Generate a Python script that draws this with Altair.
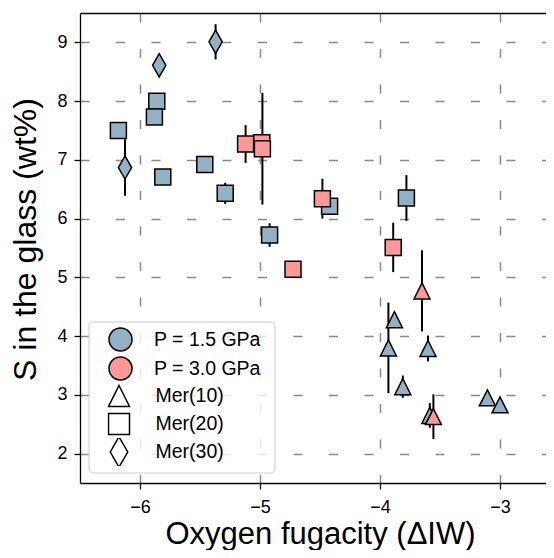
import altair as alt
import pandas as pd

# ---- data ----
x_iw = [-5.37, -5.84, -6.125,
        -5.86, -5.88, -6.18, -5.81, -5.46, -5.29, -4.92, -4.42, -3.78,
        -3.88, -3.93, -3.60, -3.81, -3.585, -3.105, -3.00,
        -5.12, -4.985, -4.98, -4.725, -4.48, -3.89,
        -3.65, -3.555]
s_wt = [9.01, 8.61, 6.87,
        8.00, 7.73, 7.50, 6.71, 6.92, 6.43, 5.72, 6.21, 6.35,
        4.28, 3.80, 3.79, 3.14, 2.65, 2.95, 2.83,
        7.27, 7.29, 7.19, 5.14, 6.34, 5.51,
        4.77, 2.63]
s_err = [0.30, 0.0, 0.48,
         0.0, 0.0, 0.0, 0.0, 0.0, 0.18, 0.20, 0.10, 0.39,
         0.12, 0.77, 0.22, 0.19, 0.21, 0.0, 0.0,
         0.32, 0.0, 0.95, 0.0, 0.34, 0.42,
         0.69, 0.38]
pressure = (["P = 1.5 GPa"] * 19) + (["P = 3.0 GPa"] * 8)
series = (["Mer(30)"] * 3 + ["Mer(20)"] * 9 + ["Mer(10)"] * 7
          + ["Mer(20)"] * 6 + ["Mer(10)"] * 2)

pressure_levels = ["P = 1.5 GPa", "P = 3.0 GPa"]
pressure_colors = ["#93b1c2", "#ff9896"]
series_levels = ["Mer(10)", "Mer(20)", "Mer(30)"]
series_shapes = ["M0,-1L1,1L-1,1Z",
                 "M-1,-1L1,-1L1,1L-1,1Z",
                 "M0,-1.45L0.83,0L0,1.45L-0.83,0Z"]

x_ticks = [-6, -5, -4, -3]
y_ticks = [2, 3, 4, 5, 6, 7, 8, 9]
x_domain = [-6.5, -2.6167]
y_domain = [1.5, 9.5]

df = pd.DataFrame({"x": x_iw, "y": s_wt, "err": s_err,
                   "pressure": pressure, "series": series})
df["order"] = range(len(df))
df["lo"] = df["y"] - df["err"]
df["hi"] = df["y"] + df["err"]

FONT = "Liberation Sans"
GRID = dict(grid=True, gridColor="#8a8a8a", gridDash=[9, 26.5], gridWidth=1.5)
xscale = alt.Scale(domain=x_domain, nice=False, zero=False)
yscale = alt.Scale(domain=y_domain, nice=False, zero=False)

xaxis = alt.Axis(orient="bottom", values=x_ticks, title="Oxygen fugacity (ΔIW)",
                 titleX=240, titleY=60.5, titleBaseline="alphabetic",
                 titleAlign="center", titleFontSize=31,
                 labelPadding=9, **GRID)
yaxis = alt.Axis(orient="left", values=y_ticks, format="d",
                 title="S in the glass (wt%)",
                 titleX=-45, titleY=226, titleBaseline="alphabetic",
                 titleAngle=270, titleAlign="center", titleFontSize=32,
                 labelPadding=7, **GRID)

errbars = alt.Chart(df).transform_filter("datum.err > 0").mark_rule(
    color="black", strokeWidth=2
).encode(x=alt.X("x:Q", scale=xscale, axis=None),
         y=alt.Y("lo:Q", scale=yscale, axis=yaxis), y2="hi:Q")

points = alt.Chart(df).mark_point(
    filled=True, stroke="black", strokeWidth=1.5, size=256, opacity=1
).encode(
    x=alt.X("x:Q", scale=xscale, axis=xaxis),
    y=alt.Y("y:Q", scale=yscale, axis=yaxis),
    fill=alt.Fill("pressure:N",
                  scale=alt.Scale(domain=pressure_levels, range=pressure_colors),
                  legend=alt.Legend(title=None, orient="none", legendX=28, legendY=312,
                                    symbolType="circle", symbolSize=529,
                                    symbolStrokeColor="black", symbolStrokeWidth=1.5,
                                    symbolOpacity=1, clipHeight=29,
                                    labelFont=FONT, labelFontSize=19.5, labelColor="black",
                                    labelOffset=21, rowPadding=0, padding=0)),
    shape=alt.Shape("series:N",
                    scale=alt.Scale(domain=series_levels, range=series_shapes),
                    legend=alt.Legend(title=None, orient="none", legendX=27.5, legendY=369,
                                      symbolSize=441, symbolFillColor="white",
                                      symbolStrokeColor="black", symbolStrokeWidth=1.5,
                                      symbolOpacity=1, clipHeight=28,
                                      labelFont=FONT, labelFontSize=19.5, labelColor="black",
                                      labelOffset=25, rowPadding=0, padding=0)),
    order=alt.Order("order:Q"),
)

# invisible layer carrying the top frame line
top_frame = alt.Chart(df).mark_rule(opacity=0).encode(
    x=alt.X("x:Q", scale=xscale,
            axis=alt.Axis(orient="top", labels=False, ticks=False, grid=False,
                          title="", domain=True)),
)

frame = alt.Chart(alt.Data(values=[{"k": 1}])).mark_rect(
    fill="white", fillOpacity=0.8, stroke="#cccccc", strokeWidth=1, cornerRadius=4
).encode(x=alt.value(9), x2=alt.value(195), y=alt.value(309), y2=alt.value(460))

chart = alt.layer(errbars, points, top_frame, frame).resolve_axis(
    x="independent"
).properties(
    width=466, height=470,
    padding={"left": 72, "top": 5, "right": 0, "bottom": 67},
    autosize=alt.AutoSizeParams(type="none"),
).configure_view(stroke=None).configure_axis(
    labelFont=FONT, labelFontSize=18, labelColor="black",
    titleFont=FONT, titleFontWeight="normal", titleColor="black",
    domainColor="black", domainWidth=1.3, tickColor="black", tickWidth=1.3, tickSize=6,
    labelFlush=False,
)

chart.save("out.html", embed_options={"renderer": "svg", "actions": False})
